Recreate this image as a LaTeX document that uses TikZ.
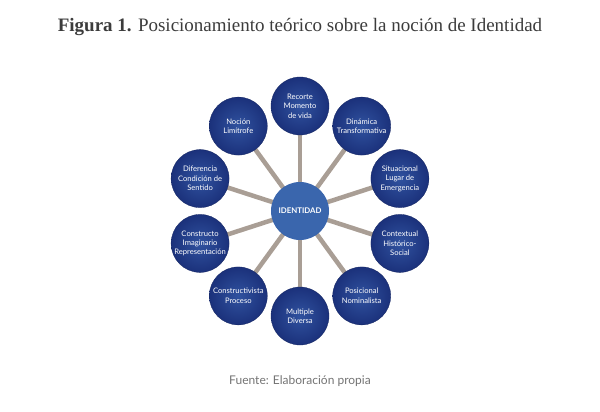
\documentclass[tikz,border=0pt]{standalone}
\usepackage{fontspec}
\usetikzlibrary{backgrounds}
\setmainfont{Liberation Serif}
\newfontfamily\nodefont{Lato}
\begin{document}
\begin{tikzpicture}[x=1pt,y=-1pt,
  outer/.style={circle, minimum size=58pt, inner sep=0pt, align=center,
    font=\nodefont\fontsize{7.6}{9.4}\selectfont, text=white,
    shade, inner color=outerin, outer color=outerout, draw=outerout!80!black, line width=0.3pt},
  core/.style={circle, minimum size=58pt, inner sep=0pt, font=\nodefont\bfseries\fontsize{7.8}{9}\selectfont,
    text=white, fill=corefill},
  spoke/.style={draw=spokecol, line width=4.5pt}]
\definecolor{outerin}{HTML}{30529F}
\definecolor{outerout}{HTML}{1B317B}
\definecolor{corefill}{HTML}{3A66AD}
\definecolor{spokecol}{HTML}{A99E95}
\definecolor{titlecol}{HTML}{3C3C3C}
\useasboundingbox (0,0) rectangle (600,412);
\node[text=titlecol] (title) at (300,27) {\fontsize{19}{22}\selectfont\textbf{Figura 1.} Posicionamiento teórico sobre la noción de Identidad};
\node[text=black!55, font=\nodefont\fontsize{12}{14}\selectfont] (src) at (300,381) {Fuente: Elaboración propia};
\node[core] (id) at (300,211) {IDENTIDAD};
\node[outer] (n1) at (300,106) {Recorte\\Momento\\de vida};
\node[outer] (n2) at (361.7,126.1) {Dinámica\\Transformativa};
\node[outer] (n3) at (399.9,178.6) {Situacional\\Lugar de\\Emergencia};
\node[outer] (n4) at (399.9,243.4) {Contextual\\Histórico-\\Social};
\node[outer] (n5) at (361.7,295.9) {Posicional\\Nominalista};
\node[outer] (n6) at (300,316) {Multiple\\Diversa};
\node[outer] (n7) at (238.3,295.9) {Constructivista\\Proceso};
\node[outer] (n8) at (200.1,243.4) {Constructo\\Imaginario\\Representación};
\node[outer] (n9) at (200.1,178.6) {Diferencia\\Condición de\\Sentido};
\node[outer] (n10) at (238.3,126.1) {Noción\\Limítrofe};
\begin{scope}[on background layer]
\foreach \n in {n1,n2,n3,n4,n5,n6,n7,n8,n9,n10}{
  \draw[spoke] (id.center) -- (\n.center);
}
\end{scope}
\end{tikzpicture}
\end{document}
